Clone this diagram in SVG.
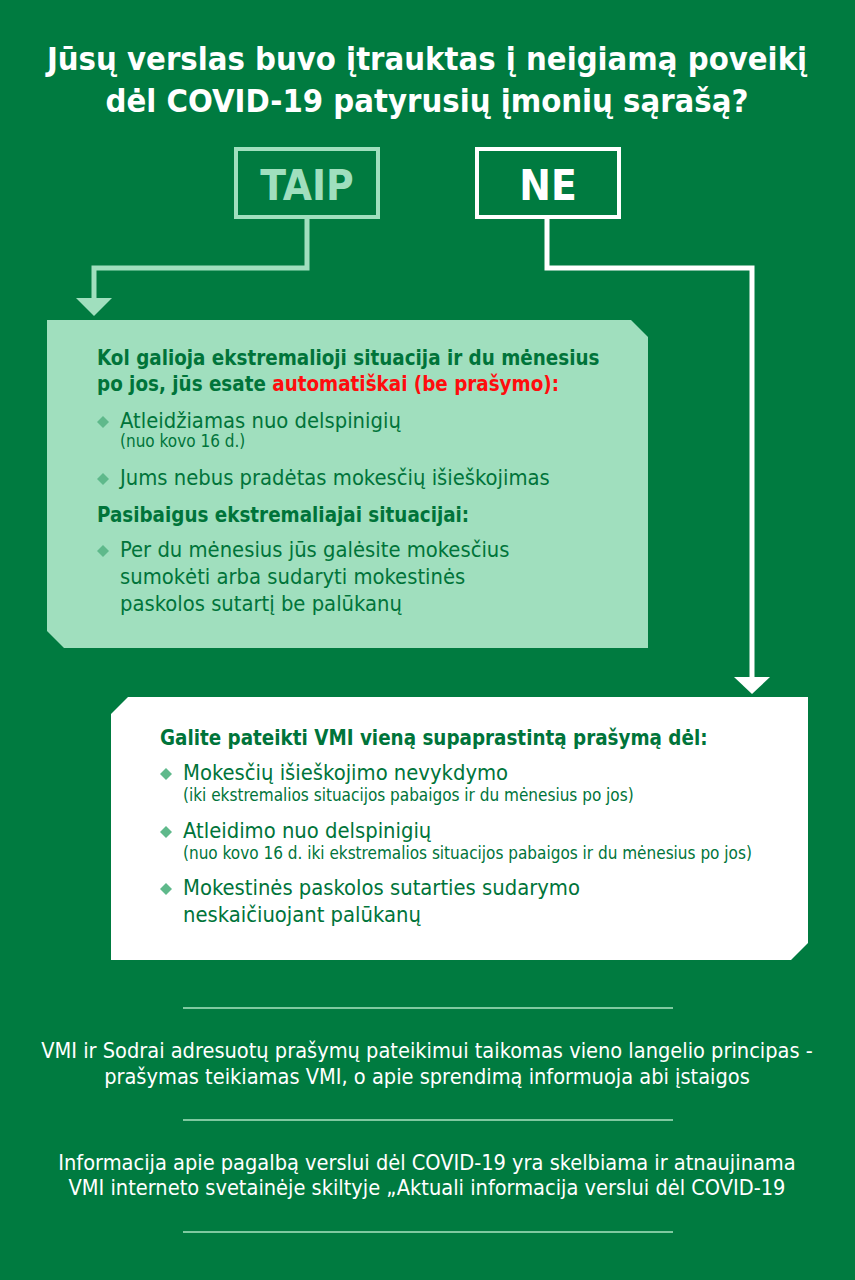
<svg xmlns="http://www.w3.org/2000/svg" width="855" height="1280" viewBox="0 0 855 1280">
<defs>
<style>
text{font-family:"DejaVu Sans Condensed","DejaVu Sans",sans-serif}
.title{font-size:32.5px;font-weight:bold;fill:#fff;text-anchor:middle}
.lbl{font-size:42px;font-weight:bold;text-anchor:middle}
.hd{font-size:20.4px;font-weight:bold;fill:#00743a}
.it{font-size:21.8px;fill:#00743a}
.sm{font-size:17px;fill:#00743a}
.red{fill:#ff0d0d}
.ft{font-size:21.6px;fill:#fff;text-anchor:middle}
.dia{fill:#5fb98b}
.sep{stroke:#7fc9a0;stroke-width:2}
</style>
<path id="d" d="M0,-6 L6,0 L0,6 L-6,0Z"/>
</defs>
<rect width="855" height="1280" fill="#007b40"/>
<g id="title">
<text class="title" x="427" y="70">Jūsų verslas buvo įtrauktas į neigiamą poveikį</text>
<text class="title" x="427" y="112">dėl COVID-19 patyrusių įmonių sąrašą?</text>
</g>
<g id="taip">
<rect x="236" y="149" width="142" height="68" fill="none" stroke="#a0dfbe" stroke-width="4"/>
<text class="lbl" x="307" y="200" fill="#a0dfbe">TAIP</text>
</g>
<g id="ne">
<rect x="477" y="149" width="142" height="68" fill="none" stroke="#fff" stroke-width="4"/>
<text class="lbl" x="548" y="200" fill="#fff">NE</text>
</g>
<g id="connectors" fill="none" stroke-width="5">
<polyline points="307,219 307,268 94,268 94,300" stroke="#a0dfbe"/>
<polygon points="76,298 112,298 94,316" fill="#a0dfbe" stroke="none"/>
<polyline points="547,219 547,268 752,268 752,680" stroke="#fff"/>
<polygon points="734,677 770,677 752,694" fill="#fff" stroke="none"/>
</g>
<g id="box-taip">
<path d="M47,320 L631,320 L648,337 L648,648 L64,648 L47,631Z" fill="#a0dfbe"/>
<text class="hd" x="97" y="365">Kol galioja ekstremalioji situacija ir du mėnesius</text>
<text class="hd" x="97" y="391">po jos, jūs esate <tspan class="red">automatiškai (be prašymo):</tspan></text>
<use href="#d" x="103" y="422" class="dia"/>
<text class="it" x="120" y="428">Atleidžiamas nuo delspinigių</text>
<text class="sm" x="120" y="447">(nuo kovo 16 d.)</text>
<use href="#d" x="103" y="479" class="dia"/>
<text class="it" x="120" y="485">Jums nebus pradėtas mokesčių išieškojimas</text>
<text class="hd" x="97" y="522">Pasibaigus ekstremaliajai situacijai:</text>
<use href="#d" x="103" y="551" class="dia"/>
<text class="it" x="120" y="557">Per du mėnesius jūs galėsite mokesčius</text>
<text class="it" x="120" y="584">sumokėti arba sudaryti mokestinės</text>
<text class="it" x="120" y="611">paskolos sutartį be palūkanų</text>
</g>
<g id="box-ne">
<path d="M128,697 L808,697 L808,943 L791,960 L111,960 L111,714Z" fill="#fff"/>
<text class="hd" x="160" y="745">Galite pateikti VMI vieną supaprastintą prašymą dėl:</text>
<use href="#d" x="166" y="774" class="dia"/>
<text class="it" x="183" y="780">Mokesčių išieškojimo nevykdymo</text>
<text class="sm" x="183" y="801">(iki ekstremalios situacijos pabaigos ir du mėnesius po jos)</text>
<use href="#d" x="166" y="832" class="dia"/>
<text class="it" x="183" y="838">Atleidimo nuo delspinigių</text>
<text class="sm" x="183" y="859">(nuo kovo 16 d. iki ekstremalios situacijos pabaigos ir du mėnesius po jos)</text>
<use href="#d" x="166" y="889" class="dia"/>
<text class="it" x="183" y="895">Mokestinės paskolos sutarties sudarymo</text>
<text class="it" x="183" y="922">neskaičiuojant palūkanų</text>
</g>
<g id="footer">
<line class="sep" x1="183" y1="1008" x2="673" y2="1008"/>
<text class="ft" x="427" y="1058">VMI ir Sodrai adresuotų prašymų pateikimui taikomas vieno langelio principas -</text>
<text class="ft" x="427" y="1084">prašymas teikiamas VMI, o apie sprendimą informuoja abi įstaigos</text>
<line class="sep" x1="183" y1="1120" x2="673" y2="1120"/>
<text class="ft" x="427" y="1170">Informacija apie pagalbą verslui dėl COVID-19 yra skelbiama ir atnaujinama</text>
<text class="ft" x="427" y="1195">VMI interneto svetainėje skiltyje „Aktuali informacija verslui dėl COVID-19</text>
<line class="sep" x1="183" y1="1232" x2="673" y2="1232"/>
</g>
</svg>
